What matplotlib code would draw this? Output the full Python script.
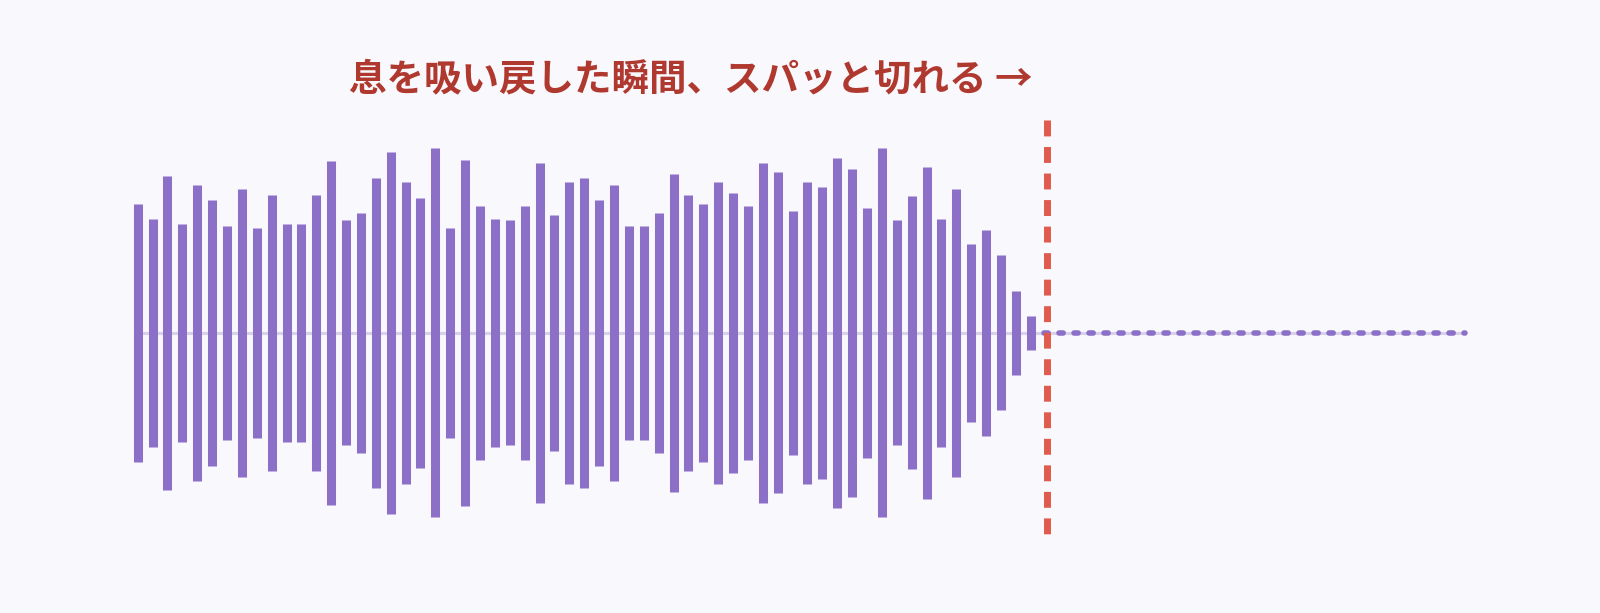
'''

  Waveform that cuts off the moment the breath is drawn back

'''

import numpy as np
from matplotlib import pyplot as plt

# Waveform data (amplitude of each bar, 0-100)

amps = [70, 62, 85, 59, 80, 72, 58, 78, 57, 75,
        59, 59, 75, 93, 61, 65, 84, 98, 82, 73,
        100, 57, 94, 69, 62, 61, 69, 92, 64, 82,
        84, 72, 80, 58, 58, 65, 86, 75, 70, 82,
        76, 69, 92, 87, 66, 82, 79, 95, 89, 68,
        100, 61, 74, 90, 62, 78, 48, 56, 42, 23, 9]
cut_pos = 61.08          # where the sound is cut (in bar steps)
silence_end = 89.2       # end of the flat, silent part
cut_top = 115.4
cut_bottom = -110.0
title = '息を吸い戻した瞬間、スパッと切れる →'

bg = '#f9f8fd'
purple = '#8c70c8'

# Plot

x = np.arange(len(amps))
a = np.array(amps)

fig = plt.figure(figsize=(16, 6.13), dpi=100, facecolor=bg)
ax = fig.add_axes([0, 0, 1, 1])
ax.set_facecolor(bg)

# center line
ax.plot([x[0], silence_end], [0, 0], '-', color='#d8d1ea', linewidth=2.2,
        solid_capstyle='butt', zorder=1)

# bars
ax.vlines(x, -a, a, colors=purple, linewidth=6.5, capstyle='butt', zorder=3)

# silence after the cut (dotted)
ln, = ax.plot([cut_pos - 0.2, silence_end], [0, 0], color=purple, linewidth=4.0,
              zorder=2)
ln.set_dashes((0.75, 1.95))
ln.set_dash_capstyle('round')

# the cut
cut, = ax.plot([cut_pos, cut_pos], [cut_top, cut_bottom], color='#e05a4e',
               linewidth=5.0, solid_capstyle='butt', zorder=4)
cut.set_dashes((2.29, 1.53))
cut.set_dash_capstyle('butt')

ax.set_xlim(-9.252, 98.25)
ax.set_ylim(-151.8, 180.5)
ax.axis('off')

fig.text(0.4315, 0.872, title, ha='center', va='center', fontsize=27,
         fontweight='bold', color='#b0392f',
         family=['Noto Sans CJK JP', 'DejaVu Sans'])

plt.savefig('out.png', dpi=100, facecolor=bg)
